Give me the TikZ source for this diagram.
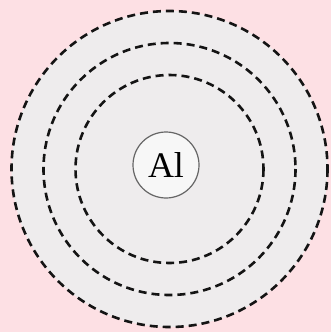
\documentclass[tikz,border=0pt]{standalone}
\usepackage{fontspec}
\setmainfont{Liberation Serif}
\begin{document}
\begin{tikzpicture}[x=1pt,y=-1pt,
  shell/.style={draw=black!92,line width=2.6pt,dash pattern=on 8pt off 5pt},
  nucleus/.style={circle,draw=black!60,line width=1.2pt,fill=white!97!black,minimum size=66pt,inner sep=0pt,font=\fontsize{36}{40}\selectfont}]
\fill[fill={rgb,255:red,253;green,224;blue,228}] (0,0) rectangle (331,332);
\useasboundingbox (0,0) rectangle (331,332);
\coordinate (c) at (169.5,169);
\fill[fill={rgb,255:red,238;green,236;blue,237}] (c) circle (158);
\draw[shell] (c) circle (158);
\draw[shell] (c) circle (126);
\draw[shell] (c) circle (94);
\node[nucleus] (al) at (166,165) {Al};
\end{tikzpicture}
\end{document}
